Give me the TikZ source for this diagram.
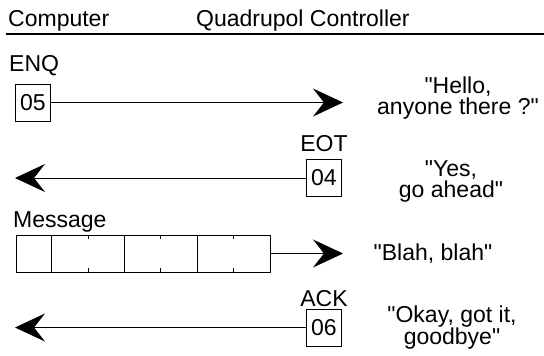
\documentclass[tikz,border=0pt]{standalone}
\usepackage{fontspec}
\setmainfont{Liberation Sans}[Ligatures=TeXOff]
\usetikzlibrary{arrows.meta}

\begin{document}
\begin{tikzpicture}[x=1pt, y=-1pt, >={Stealth[length=30pt, width=28pt, inset=11pt]},
	every node/.style={font=\fontsize{23}{21}\selectfont, inner sep=0pt},
	byte/.style={draw, line width=0.9pt, minimum width=35pt, minimum height=37pt},
	wire/.style={line width=0.9pt, ->},
	quote/.style={align=center}]
	\useasboundingbox (0, 0) rectangle (544, 356);

	% header
	\node[anchor=base west] (comp) at (8, 27) {Computer};
	\node[anchor=base west] (ctrl) at (196, 27) {Quadrupol Controller};
	\draw[line width=2pt] (6, 34) -- (544, 34);

	% ENQ
	\node[anchor=base west] (enq) at (9, 71) {ENQ};
	\node[byte] (b05) at (33, 102.5) {05};
	\coordinate (t1) at (343, 102.5);
	\draw[wire] (b05) -- (t1);
	\node[quote] (q1) at (458, 98) {"Hello,\\anyone there ?"};

	% EOT
	\node[byte] (b04) at (324, 178) {04};
	\node[anchor=base] (eot) at (324, 151) {EOT};
	\coordinate (t2) at (15, 178);
	\draw[wire] (b04) -- (t2);
	\node[quote] (q2) at (451, 181) {"Yes,\\go ahead"};

	% message
	\node[anchor=base west] (msgtxt) at (13, 227) {Message};
	\node[draw, line width=0.9pt, minimum width=254pt, minimum height=37pt] (msg) at (143, 253.5) {};
	\foreach \i in {1, 3, 5}
		\draw[line width=0.9pt] ([xshift=\i*36.3pt]msg.north west) -- ([xshift=\i*36.3pt]msg.south west);
	\foreach \i in {2, 4, 6} {
		\draw[line width=0.9pt] ([xshift=\i*36.3pt]msg.north west) -- ++(0, 4);
		\draw[line width=0.9pt] ([xshift=\i*36.3pt]msg.south west) -- ++(0, -4);
	}
	\coordinate (t3) at (343, 253.5);
	\draw[wire] (msg) -- (t3);
	\node (q3) at (433, 253.5) {"Blah, blah"};

	% ACK
	\node[byte] (b06) at (324, 327.5) {06};
	\node[anchor=base] (ack) at (324, 306) {ACK};
	\coordinate (t4) at (15, 327.5);
	\draw[wire] (b06) -- (t4);
	\node[quote] (q4) at (452, 327.5) {"Okay, got it,\\goodbye"};
\end{tikzpicture}
\end{document}
